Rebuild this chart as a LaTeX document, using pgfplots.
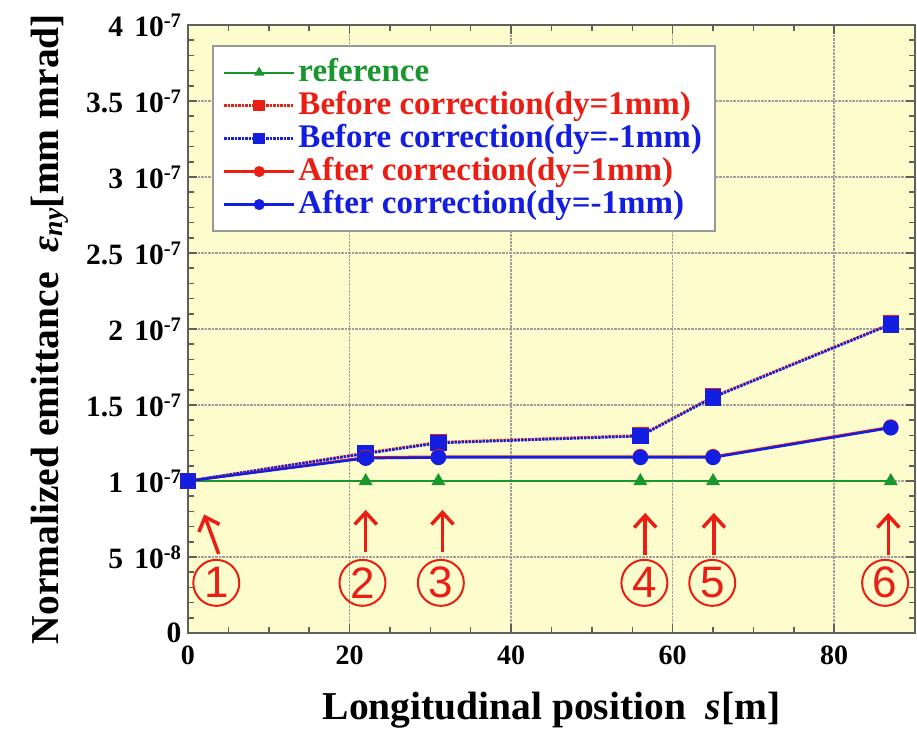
\documentclass[border=0pt]{standalone}
\usepackage{fontspec}
\setmainfont{Liberation Serif}
\newfontfamily\circfont{Liberation Sans}
\usepackage{pgfplots}
\pgfplotsset{compat=1.18}
\usetikzlibrary{arrows.meta}
\definecolor{bgyel}{RGB}{252,252,205}
\definecolor{cgreen}{RGB}{25,150,45}
\definecolor{cred}{RGB}{235,30,20}
\definecolor{cblue}{RGB}{20,30,225}
\definecolor{axgray}{RGB}{95,95,95}
\newcommand{\tl}[2]{#1\hspace{0.38em}10\textsuperscript{#2}}
\begin{document}
\begin{tikzpicture}
\path[use as bounding box] (-188pt,-98pt) rectangle (729pt,633pt);
\begin{axis}[
  at={(0pt,0pt)}, anchor=south west,
  scale only axis, width=727pt, height=608pt,
  xmin=0, xmax=90, ymin=0, ymax=4e-7,
  xtick={0,20,40,60,80}, minor x tick num=3,
  ytick={0,5e-8,1e-7,1.5e-7,2e-7,2.5e-7,3e-7,3.5e-7,4e-7},
  yticklabels={0,\tl{5}{-8},\tl{1}{-7},\tl{1.5}{-7},\tl{2}{-7},\tl{2.5}{-7},\tl{3}{-7},\tl{3.5}{-7},\tl{4}{-7}},
  minor y tick num=4,
  scaled y ticks=false,
  tick align=inside,
  major tick length=9pt, minor tick length=6pt,
  grid=major,
  major grid style={densely dotted, line width=1.6pt, gray!75},
  axis background/.style={fill=bgyel},
  axis line style={line width=2.5pt, axgray},
  every tick/.style={line width=1.5pt, axgray},
  /pgf/number format/assume math mode=true,
  xticklabel style={font=\fontsize{28}{30}\selectfont\bfseries, yshift=-9pt},
  yticklabel style={font=\fontsize{29.5}{32}\selectfont\bfseries, xshift=-3pt},
  xlabel={Longitudinal position\ \ \textit{s}[m]},
  ylabel={Normalized emittance\ \ \textit{ε}\textsubscript{\textit{ny}}[mm mrad]},
  label style={font=\fontsize{39.5}{42}\selectfont\bfseries},
  xlabel style={at={(axis description cs:0.5,-0.127)}, anchor=center},
  ylabel style={at={(axis description cs:-0.19,0.5)}, anchor=center},
  legend cell align=left,
  legend style={at={(rel axis cs:0.033,0.967)}, anchor=north west,
    fill=white, draw=gray!80, line width=2pt,
    font=\fontsize{33}{35}\selectfont\bfseries,
    row sep=0pt, inner xsep=10pt, inner ysep=10pt,
    nodes={inner xsep=3pt, inner ysep=1pt, text height=24pt, text depth=7pt}},
  legend image code/.code={\draw[mark repeat=2,mark phase=2,every mark/.append style={scale=0.65}] plot coordinates {(0pt,0pt) (35pt,0pt) (70pt,0pt)};},
]
\addplot[cgreen, line width=2pt, mark=triangle*, mark size=6pt, mark options={solid}]
  coordinates {(0,1e-7) (22,1e-7) (31,1e-7) (56,1e-7) (65,1e-7) (87,1e-7)};
\addlegendentry{\textcolor{cgreen}{reference}}
\addplot[cred, line width=2.5pt, densely dotted, mark=square*, mark size=7pt, mark options={solid}]
  coordinates {(0,1e-7) (22,1.185e-7) (31,1.255e-7) (56,1.30e-7) (65,1.555e-7) (87,2.035e-7)};
\addlegendentry{\textcolor{cred}{Before correction(dy=1mm)}}
\addplot[cblue, line width=2.5pt, densely dotted, mark=square*, mark size=7pt, mark options={solid}]
  coordinates {(0,1e-7) (22,1.18e-7) (31,1.25e-7) (56,1.295e-7) (65,1.55e-7) (87,2.03e-7)};
\addlegendentry{\textcolor{cblue}{Before correction(dy=-1mm)}}
\addplot[cred, line width=2.5pt, mark=*, mark size=6.5pt, mark options={solid}]
  coordinates {(0,1e-7) (22,1.155e-7) (31,1.16e-7) (56,1.16e-7) (65,1.16e-7) (87,1.355e-7)};
\addlegendentry{\textcolor{cred}{After correction(dy=1mm)}}
\addplot[cblue, line width=2.5pt, mark=*, mark size=6.5pt, mark options={solid}]
  coordinates {(0,1e-7) (22,1.15e-7) (31,1.155e-7) (56,1.155e-7) (65,1.155e-7) (87,1.35e-7)};
\addlegendentry{\textcolor{cblue}{After correction(dy=-1mm)}}
% annotations
\draw[cred, line width=3.5pt, -{Straight Barb[length=12pt,width=22pt,line width=3.5pt]}] (axis cs:3.8,0.52e-7) -- (axis cs:2.0,0.78e-7);
\draw[cred, line width=3.5pt, -{Straight Barb[length=12pt,width=22pt,line width=3.5pt]}] (axis cs:22.0,0.53e-7) -- (axis cs:22.0,0.81e-7);
\draw[cred, line width=3.5pt, -{Straight Barb[length=12pt,width=22pt,line width=3.5pt]}] (axis cs:31.5,0.53e-7) -- (axis cs:31.5,0.81e-7);
\draw[cred, line width=3.5pt, -{Straight Barb[length=12pt,width=22pt,line width=3.5pt]}] (axis cs:56.6,0.51e-7) -- (axis cs:56.6,0.79e-7);
\draw[cred, line width=3.5pt, -{Straight Barb[length=12pt,width=22pt,line width=3.5pt]}] (axis cs:65.1,0.51e-7) -- (axis cs:65.1,0.79e-7);
\draw[cred, line width=3.5pt, -{Straight Barb[length=12pt,width=22pt,line width=3.5pt]}] (axis cs:86.7,0.51e-7) -- (axis cs:86.7,0.79e-7);
\foreach \xx/\nn in {3.5/1,21.6/2,31.3/3,56.5/4,64.9/5,86.3/6}{
  \edef\tmp{\noexpand\node[circle, draw=cred, line width=2pt, text=cred, minimum size=46pt, inner sep=0pt, font=\noexpand\circfont\noexpand\fontsize{44}{44}\noexpand\selectfont] at (axis cs:\xx,0.33e-7) {\nn};}
  \tmp
}
\end{axis}
\end{tikzpicture}
\end{document}
